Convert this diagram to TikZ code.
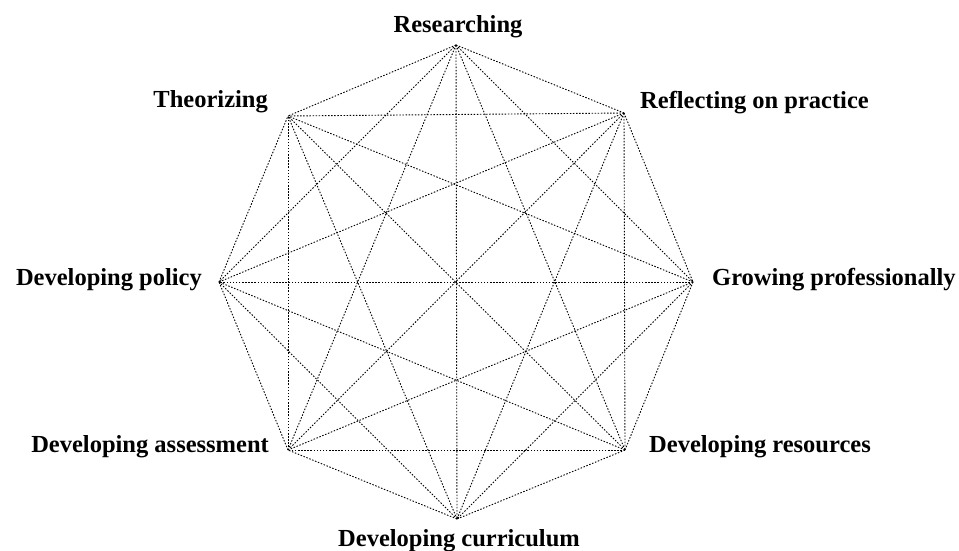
\documentclass[tikz,border=0pt]{standalone}
\usepackage{fontspec}
\setmainfont{Liberation Serif}
\begin{document}
\begin{tikzpicture}[x=1pt,y=-1pt,
  edge/.style={line width=0.9pt, black, dash pattern=on 1.5pt off 1.6pt},
  lab/.style={inner sep=0pt, font=\fontsize{24.5}{28}\selectfont\bfseries}]
\useasboundingbox (0,0) rectangle (959,551);
\coordinate (v1) at (456,45);
\coordinate (v2) at (624,113);
\coordinate (v3) at (693,282);
\coordinate (v4) at (625,450);
\coordinate (v5) at (457,519);
\coordinate (v6) at (288,450);
\coordinate (v7) at (219,282);
\coordinate (v8) at (288,116);
\foreach \i in {1,...,8}{
  \foreach \j in {1,...,8}{
    \ifnum\i<\j
      \draw[edge] (v\i) -- (v\j);
    \fi
  }
}
\node[lab, anchor=base] (researching) at (458,33) {Researching};
\node[lab, anchor=base east] (theorizing) at (268,107) {Theorizing};
\node[lab, anchor=base west] (reflecting) at (640,108) {Reflecting on practice};
\node[lab, anchor=base east] (policy) at (202,285) {Developing policy};
\node[lab, anchor=base west] (growing) at (712,285) {Growing professionally};
\node[lab, anchor=base east] (assessment) at (269,452) {Developing assessment};
\node[lab, anchor=base west] (resources) at (649,452) {Developing resources};
\node[lab, anchor=base] (curriculum) at (459,546) {Developing curriculum};
\end{tikzpicture}
\end{document}
